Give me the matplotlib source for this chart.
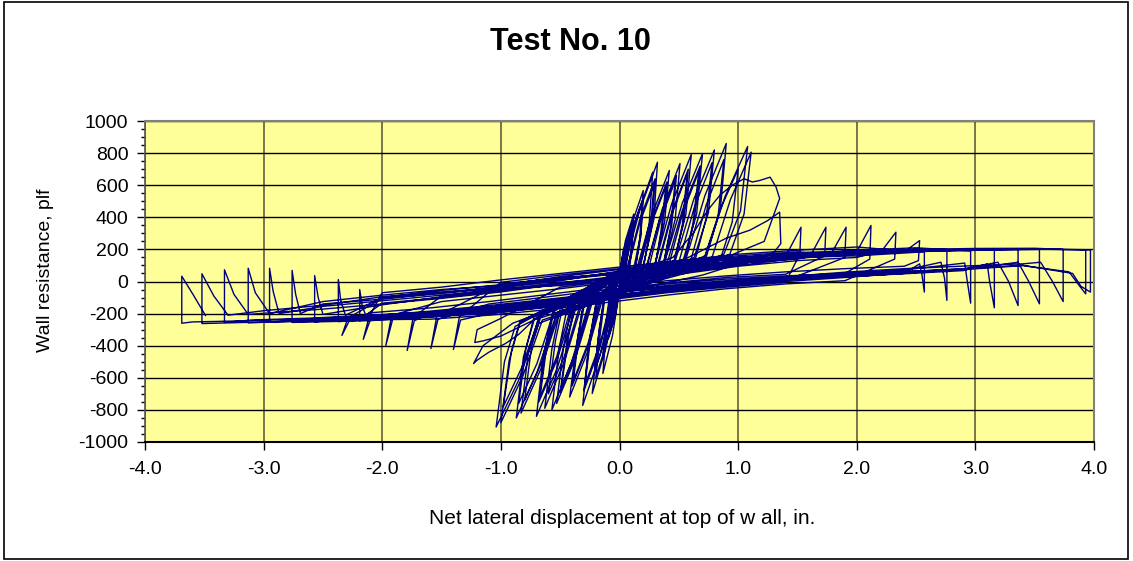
import matplotlib
matplotlib.use('Agg')
import matplotlib.pyplot as plt
from matplotlib.ticker import MultipleLocator, FormatStrFormatter
from matplotlib.patches import Rectangle

plt.rcParams['font.family'] = ['Liberation Sans', 'DejaVu Sans']
plt.rcParams['axes.unicode_minus'] = False

# ---------------- data ----------------
# pre-peak cycles, positive half: knee -> mid -> peak -> unload mid -> unload end
pp_knee_x = [0.00, 0.00, 0.00, 0.01, 0.01, 0.02, 0.03, 0.03, 0.04, 0.06, 0.07, 0.15, 0.16, 0.17, 0.23, 0.23, 0.25, 0.30, 0.32, 0.33, 0.38, 0.40, 0.42, 0.47, 0.50, 0.56, 0.60, 0.72, 0.78, 0.72]
pp_knee_f = [30, 40, 50, 45, 60, 50, 55, 70, 80, 70, 75, 90, 80, 85, 100, 90, 95, 110, 100, 105, 120, 110, 115, 130, 120, 140, 130, 150, 150, 140]
pp_mid_x = [0.025, 0.03, 0.05, 0.055, 0.095, 0.10, 0.10, 0.145, 0.17, 0.17, 0.17, 0.275, 0.27, 0.27, 0.36, 0.345, 0.35, 0.44, 0.44, 0.44, 0.53, 0.53, 0.535, 0.625, 0.63, 0.72, 0.73, 0.89, 0.935, 0.85]
pp_mid_f = [150, 185, 255, 230, 340, 310, 295, 405, 445, 385, 365, 420, 380, 365, 450, 405, 390, 485, 430, 415, 490, 445, 430, 510, 460, 535, 475, 530, 510, 450]
pp_peak_x = [0.06, 0.08, 0.12, 0.12, 0.20, 0.20, 0.19, 0.28, 0.32, 0.30, 0.29, 0.42, 0.40, 0.39, 0.51, 0.48, 0.47, 0.605, 0.58, 0.57, 0.70, 0.68, 0.67, 0.80, 0.78, 0.90, 0.88, 1.08, 1.11, 1.00]
pp_peak_f = [250, 300, 420, 380, 567, 520, 490, 681, 743, 640, 600, 692, 620, 590, 735, 660, 630, 791, 700, 670, 797, 720, 690, 820, 740, 860, 760, 841, 806, 700]
pp_um_x = [0.055, 0.07, 0.105, 0.105, 0.18, 0.18, 0.17, 0.25, 0.29, 0.27, 0.26, 0.38, 0.36, 0.35, 0.47, 0.44, 0.43, 0.56, 0.54, 0.53, 0.65, 0.63, 0.62, 0.75, 0.73, 0.85, 0.83, 1.02, 1.05, 0.95]
pp_um_f = [140, 170, 230, 210, 300, 280, 260, 360, 390, 340, 320, 370, 330, 315, 390, 350, 335, 420, 370, 355, 420, 380, 365, 430, 390, 450, 400, 440, 420, 370]
pp_unl_x = [0.04, 0.05, 0.07, 0.08, 0.12, 0.13, 0.13, 0.17, 0.20, 0.20, 0.20, 0.30, 0.30, 0.30, 0.38, 0.37, 0.37, 0.46, 0.46, 0.46, 0.54, 0.55, 0.55, 0.63, 0.64, 0.72, 0.73, 0.88, 0.93, 0.86]
pp_unl_f = [50, 60, 60, 55, 80, 70, 65, 90, 100, 90, 85, 110, 100, 95, 120, 110, 105, 130, 120, 115, 140, 130, 125, 150, 140, 160, 150, 170, 170, 160]
pp_cross_dn = [-10, -20, -30, -25, -30, -40, -35, -40, -50, -40, -45, -50, -50, -45, -60, -50, -55, -60, -60, -55, -70, -60, -65, -70, -60, -80, -70, -80, -80, -70]
pp_cross_up = [10, 20, 30, 25, 30, 30, 35, 40, 40, 40, 45, 40, 50, 45, 50, 40, 45, 50, 50, 45, 60, 50, 55, 60, 50, 60, 60, 70, 70, 60]
# pre-peak cycles, negative half
pn_knee_x = [0.00, 0.00, 0.00, -0.01, 0.00, -0.02, -0.02, -0.03, -0.04, -0.05, -0.06, -0.14, -0.15, -0.16, -0.23, -0.24, -0.25, -0.26, -0.32, -0.33, -0.37, -0.39, -0.41, -0.51, -0.52, -0.54, -0.56, -0.65, -0.68, -0.68]
pn_knee_f = [-30, -40, -50, -45, -60, -70, -60, -65, -80, -80, -85, -100, -90, -95, -130, -120, -125, -140, -150, -140, -170, -160, -165, -200, -190, -220, -200, -240, -260, -230]
pn_mid_x = [-0.025, -0.035, -0.06, -0.06, -0.06, -0.115, -0.10, -0.11, -0.165, -0.165, -0.165, -0.27, -0.265, -0.265, -0.37, -0.36, -0.36, -0.405, -0.465, -0.455, -0.525, -0.525, -0.53, -0.66, -0.65, -0.695, -0.695, -0.815, -0.85, -0.82]
pn_mid_f = [-155, -210, -270, -250, -340, -415, -360, -335, -460, -410, -390, -440, -400, -385, -475, -435, -420, -505, -500, -450, -540, -485, -470, -540, -495, -565, -510, -590, -615, -530]
pn_peak_x = [-0.06, -0.09, -0.14, -0.13, -0.14, -0.23, -0.20, -0.21, -0.31, -0.30, -0.29, -0.42, -0.40, -0.39, -0.53, -0.50, -0.49, -0.57, -0.63, -0.60, -0.70, -0.68, -0.67, -0.83, -0.80, -0.87, -0.85, -1.00, -1.04, -0.98]
pn_peak_f = [-260, -350, -450, -420, -573, -698, -600, -560, -772, -680, -640, -720, -650, -620, -760, -690, -660, -800, -790, -700, -840, -750, -720, -820, -740, -850, -760, -880, -907, -780]
pn_um_x = [-0.045, -0.07, -0.11, -0.10, -0.11, -0.18, -0.16, -0.17, -0.26, -0.25, -0.24, -0.36, -0.35, -0.34, -0.47, -0.44, -0.43, -0.51, -0.57, -0.54, -0.64, -0.62, -0.61, -0.77, -0.74, -0.81, -0.79, -0.93, -0.97, -0.91]
pn_um_f = [-140, -180, -230, -215, -290, -360, -310, -290, -400, -350, -330, -380, -340, -325, -400, -360, -345, -420, -420, -370, -450, -400, -385, -450, -400, -470, -420, -490, -500, -430]
pn_unl_x = [-0.035, -0.05, -0.08, -0.07, -0.08, -0.13, -0.12, -0.12, -0.19, -0.19, -0.18, -0.30, -0.30, -0.29, -0.40, -0.38, -0.37, -0.44, -0.50, -0.48, -0.56, -0.56, -0.55, -0.68, -0.66, -0.72, -0.72, -0.84, -0.88, -0.84]
pn_unl_f = [-50, -60, -70, -65, -80, -90, -80, -75, -110, -100, -95, -130, -120, -115, -150, -140, -135, -160, -170, -160, -190, -180, -175, -220, -210, -240, -220, -260, -280, -250]

# failure cycles
fail_pos1_x = [0.00, 0.45, 0.62, 0.75, 0.85, 0.95, 1.05, 1.12, 1.18, 1.27, 1.32, 1.35, 1.22, 0.60, 0.00]
fail_pos1_f = [30, 150, 300, 450, 540, 600, 640, 620, 629, 650, 588, 517, 250, 60, -60]
fail_neg1_x = [-0.40, -0.68, -0.85, -0.96, -1.10, -1.20, -1.23, -1.15, -0.90, -0.40, 0.00]
fail_neg1_f = [-130, -210, -330, -386, -440, -490, -511, -400, -260, -120, 20]
fail_pos2_x = [0.50, 0.90, 1.10, 1.25, 1.35, 1.36, 1.30, 0.70, 0.00]
fail_pos2_f = [120, 270, 320, 380, 432, 236, 180, 40, -70]
fail_neg2_x = [-0.50, -1.00, -1.15, -1.22, -1.20, -1.00]
fail_neg2_f = [-160, -340, -370, -380, -300, -230]

# post-peak band stations (moving positive / moving negative)
band_up_x = [-3.5, -3.0, -2.5, -2.0, -1.5, -1.0, -0.5, 0.0, 0.5, 1.0, 1.5, 2.0, 2.5, 3.0, 3.5]
band_dn_x = [-3.6, -3.1, -2.6, -2.1, -1.6, -1.1, -0.6, -0.1, 0.4, 0.9, 1.4, 1.9, 2.4, 2.9, 3.4]
band_up_f = [
    [-215, -200, -170, -150, -110, -70, -35, 10, 60, 105, 140, 165, 185, 195, 200],
    [-195, -165, -120, -80, -45, -5, 40, 80, 120, 160, 185, 200, 205, 205, 206],
    [-210, -190, -160, -125, -60, -15, 20, 55, 80, 115, 140, 160, 180, 190, 196],
    [-200, -175, -130, -90, -90, -55, -20, 30, 100, 150, 175, 190, 198, 202, 204],
    [-220, -205, -180, -160, -125, -85, -45, 0, 45, 95, 130, 150, 170, 185, 194],
    [-190, -160, -115, -70, -35, 10, 50, 90, 130, 170, 195, 215, 215, 210, 208],
    [-205, -185, -145, -105, -75, -30, 15, 60, 110, 140, 150, 160, 178, 192, 199],
    [-212, -195, -165, -135, -100, -60, -10, 35, 70, 110, 160, 185, 200, 204, 205],
    [-198, -170, -130, -100, -55, -20, 25, 45, 85, 125, 165, 195, 210, 208, 206],
    [-216, -200, -175, -145, -95, -50, -5, 20, 65, 120, 150, 170, 188, 196, 200],
    [-202, -178, -140, -110, -70, -40, 5, 65, 115, 150, 170, 180, 190, 197, 201],
    [-208, -188, -155, -120, -85, -45, -25, 15, 75, 135, 165, 178, 186, 194, 199],
    [-196, -168, -125, -85, -50, -25, 30, 75, 95, 130, 155, 182, 200, 206, 207],
    [-214, -198, -172, -140, -105, -65, -15, 25, 55, 100, 145, 170, 192, 200, 203],
    [-204, -182, -148, -95, -65, -35, 10, 50, 100, 145, 180, 192, 196, 199, 202],
]
band_dn_f = [
    [-258, -255, -250, -242, -225, -200, -160, -115, -70, -35, -5, 15, 35, 60, 90],
    [-250, -240, -225, -205, -175, -140, -95, -50, -10, 25, 45, 65, 80, 95, 110],
    [-256, -250, -245, -235, -195, -160, -120, -85, -55, -25, 5, 35, 60, 80, 102],
    [-252, -246, -236, -215, -210, -185, -140, -70, -25, 5, 30, 50, 70, 88, 106],
    [-260, -258, -255, -250, -235, -210, -175, -130, -85, -45, -15, 5, 30, 55, 88],
    [-248, -236, -220, -195, -165, -125, -80, -35, 5, 35, 60, 80, 95, 105, 115],
    [-255, -248, -238, -220, -205, -180, -130, -75, -30, 0, 15, 30, 50, 72, 98],
    [-257, -252, -246, -236, -215, -190, -150, -95, -50, -15, 25, 50, 70, 85, 104],
    [-251, -242, -230, -215, -185, -150, -110, -70, -40, -10, 20, 45, 72, 92, 108],
    [-259, -256, -252, -244, -220, -195, -140, -100, -60, -20, 10, 30, 48, 68, 95],
    [-253, -245, -235, -222, -200, -175, -120, -60, -15, 15, 35, 50, 62, 78, 100],
    [-256, -251, -243, -230, -210, -185, -150, -110, -65, -25, 10, 40, 60, 75, 97],
    [-249, -240, -228, -210, -190, -160, -115, -75, -35, 0, 30, 58, 80, 96, 110],
    [-258, -254, -248, -238, -222, -198, -158, -105, -55, -30, 0, 25, 52, 74, 99],
    [-252, -244, -232, -212, -192, -168, -130, -90, -45, -5, 22, 42, 60, 80, 101],
]

# intermediate post-peak cycles (rows 0-5 of the band tables)
mid_pos_x = [1.53, 1.74, 1.91, 2.12, 2.33, 2.53]
mid_rise_f = [170, 175, 180, 185, 190, 190]
mid_pos_f = [338, 338, 338, 349, 307, 255]
mid_drop_f = [170, 160, 150, 140, 140, 130]
mid_neg_x = [-1.40, -1.59, -1.79, -1.97, -2.16, -2.34]
mid_pre_f = [-240, -235, -245, -230, -238, -248]
mid_neg_f = [-424, -418, -430, -399, -360, -336]
mid_ret_f = [-220, -215, -225, -210, -218, -228]

# large post-peak cycles (rows 6-14 of the band tables)
big_pos_x = [2.57, 2.76, 2.96, 3.16, 3.36, 3.54, 3.74, 3.93, 3.97]
big_top_f = [185, 190, 190, 195, 200, 200, 200, 198, 196]
big_low_f = [-66, -118, -135, -164, -150, -139, -125, -77, -66]
big_pos_dx1 = [0.02, 0.02, 0.03, 0.04, 0.08, 0.09, 0.09, 0.06, 0.08]
big_pos_f1 = [40, 20, 10, 0, 0, 0, 0, -20, -30]
big_pos_dx2 = [0.04, 0.05, 0.05, 0.06, 0.17, 0.18, 0.19, 0.14, 0.15]
big_pos_f2 = [110, 120, 115, 110, 120, 120, 120, 60, 50]
big_neg_x = [-2.19, -2.37, -2.57, -2.76, -2.95, -3.13, -3.33, -3.52, -3.69]
big_bot_f = [-245, -250, -252, -255, -252, -258, -255, -262, -260]
big_neg_top = [-50, 12, 37, 69, 83, 83, 73, 48, 33]
big_neg_dx1 = [0.02, 0.02, 0.03, 0.03, 0.03, 0.06, 0.08, 0.10, 0.10]
big_neg_f1 = [-150, -120, -100, -80, -60, -70, -80, -90, -87]
big_neg_dx2 = [0.05, 0.06, 0.07, 0.07, 0.08, 0.18, 0.20, 0.22, 0.20]
big_neg_f2 = [-210, -210, -205, -200, -200, -200, -205, -210, -212]

x_ticks = [-4.0, -3.0, -2.0, -1.0, 0.0, 1.0, 2.0, 3.0, 4.0]
y_ticks = [-1000, -800, -600, -400, -200, 0, 200, 400, 600, 800, 1000]

# ---------------- build the recorded path ----------------
px, py = [0.0], [0.0]


def add(x, f):
    px.append(x)
    py.append(f)


def add_stations(xs, fvals, lo, hi, ascending):
    pairs = list(zip(xs, fvals))
    if not ascending:
        pairs = pairs[::-1]
    for s, f in pairs:
        if lo < s < hi:
            add(s, f)


for i in range(len(pp_peak_x)):
    add(pp_knee_x[i], pp_knee_f[i])
    add(pp_mid_x[i], pp_mid_f[i])
    add(pp_peak_x[i], pp_peak_f[i])
    add(pp_um_x[i], pp_um_f[i])
    add(pp_unl_x[i], pp_unl_f[i])
    add(0.0, pp_cross_dn[i])
    add(pn_knee_x[i], pn_knee_f[i])
    add(pn_mid_x[i], pn_mid_f[i])
    add(pn_peak_x[i], pn_peak_f[i])
    add(pn_um_x[i], pn_um_f[i])
    add(pn_unl_x[i], pn_unl_f[i])
    add(0.0, pp_cross_up[i])

for xs, fs in ((fail_pos1_x, fail_pos1_f), (fail_neg1_x, fail_neg1_f),
               (fail_pos2_x, fail_pos2_f), (fail_neg2_x, fail_neg2_f)):
    for x, f in zip(xs, fs):
        add(x, f)

n_mid = len(mid_pos_x)
for i in range(n_mid):
    xm, xn = mid_pos_x[i], mid_neg_x[i]
    add_stations(band_up_x, band_up_f[i], px[-1] + 0.1, xm - 0.15, True)
    add(xm - 0.12, mid_rise_f[i])
    add(xm, mid_pos_f[i])
    add(xm - 0.01, mid_drop_f[i])
    add_stations(band_dn_x, band_dn_f[i], xn + 0.1, xm - 0.1, False)
    add(xn + 0.06, mid_pre_f[i])
    add(xn, mid_neg_f[i])
    add(xn + 0.05, mid_ret_f[i])

for i in range(len(big_pos_x)):
    xm, xn = big_pos_x[i], big_neg_x[i]
    add_stations(band_up_x, band_up_f[n_mid + i], px[-1] + 0.1, xm - 0.1, True)
    add(xm, big_top_f[i])
    add(xm, big_low_f[i])
    add(xm - big_pos_dx1[i], big_pos_f1[i])
    add(xm - big_pos_dx2[i], big_pos_f2[i])
    add_stations(band_dn_x, band_dn_f[n_mid + i], xn + 0.05,
                 xm - big_pos_dx2[i] - 0.1, False)
    add(xn, big_bot_f[i])
    add(xn, big_neg_top[i])
    add(xn + big_neg_dx1[i], big_neg_f1[i])
    add(xn + big_neg_dx2[i], big_neg_f2[i])

# ---------------- figure ----------------
W, H = 1133, 561
fig = plt.figure(figsize=(W / 100, H / 100), dpi=100)
fig.patch.set_facecolor('white')
fig.patches.append(Rectangle((4 / W, 2 / H), (1128 - 4) / W, (H - 4) / H,
                             transform=fig.transFigure, fill=False,
                             edgecolor='black', linewidth=1.2))

ax = fig.add_axes([145 / W, 1 - 442 / H, (1094 - 145) / W, (442 - 121) / H])
ax.set_facecolor('#FFFF99')
ax.set_xlim(-4, 4)
ax.set_ylim(-1000, 1000)
ax.set_xticks(x_ticks)
ax.set_yticks(y_ticks)
ax.xaxis.set_major_formatter(FormatStrFormatter('%.1f'))
ax.yaxis.set_minor_locator(MultipleLocator(50))
ax.xaxis.grid(True, color='#77774a', linewidth=1.4)
ax.yaxis.grid(True, which='major', color='black', linewidth=1.0)
ax.set_axisbelow(True)

ax.plot(px, py, color='#000080', linewidth=1.0, zorder=3)

ax.tick_params(axis='y', which='major', direction='out', length=6, width=1,
               labelsize=14, pad=6, colors='black')
ax.tick_params(axis='y', which='minor', direction='out', length=3, width=1)
ax.tick_params(axis='x', which='major', direction='out', length=6, width=1,
               labelsize=14, pad=8)
ax.tick_params(axis='x', which='minor', bottom=False)
for side in ('top', 'right'):
    ax.spines[side].set_color('#808080')
    ax.spines[side].set_linewidth(1.5)
ax.spines['left'].set_color('#555555')
ax.spines['left'].set_linewidth(1.2)
ax.spines['bottom'].set_color('black')
ax.spines['bottom'].set_linewidth(1.5)

fig.text(570 / W, 1 - 42 / H, 'Test No. 10', ha='center', va='center',
         fontsize=22, fontweight='bold')
fig.text(622 / W, 1 - 518 / H, 'Net lateral displacement at top of w all, in.',
         ha='center', va='center', fontsize=15)
fig.text(46 / W, 1 - 270 / H, 'Wall resistance, plf', ha='center', va='center',
         rotation=90, fontsize=14)

fig.savefig('out.png', dpi=100)
